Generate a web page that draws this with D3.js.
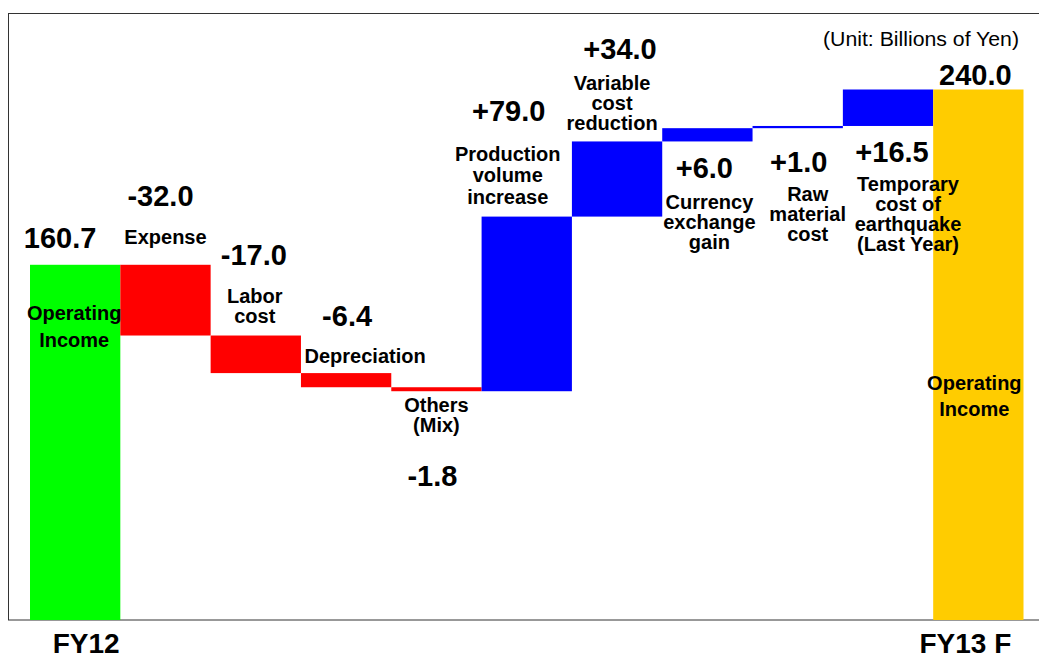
<!DOCTYPE html>
<html>
<head>
<meta charset="utf-8">
<script src="https://cdn.jsdelivr.net/npm/d3@7"></script>
<style>
  body { margin: 0; background: #fff; }
  svg { display: block; font-family: "Liberation Sans", Arial, sans-serif; }
</style>
</head>
<body>
<svg id="chart" width="1039" height="659"></svg>
<script>
// data
const categories = ["FY12", "Expense", "Labor cost", "Depreciation", "Others (Mix)",
  "Production volume increase", "Variable cost reduction", "Currency exchange gain",
  "Raw material cost", "Temporary cost of earthquake (Last Year)", "FY13 F"];
const values = [160.7, -32.0, -17.0, -6.4, -1.8, 79.0, 34.0, 6.0, 1.0, 16.5, 240.0];
const kinds = ["total", "neg", "neg", "neg", "neg", "pos", "pos", "pos", "pos", "pos", "end"];
const valueLabels = ["160.7", "-32.0", "-17.0", "-6.4", "-1.8", "+79.0", "+34.0", "+6.0", "+1.0", "+16.5", "240.0"];
const nameLines = [
  ["Operating", "Income"], ["Expense"], ["Labor", "cost"], ["Depreciation"], ["Others", "(Mix)"],
  ["Production", "volume", "increase"], ["Variable", "cost", "reduction"], ["Currency", "exchange", "gain"],
  ["Raw", "material", "cost"], ["Temporary", "cost of", "earthquake", "(Last Year)"], ["Operating", "Income"]
];
const axisLabels = ["FY12", "", "", "", "", "", "", "", "", "", "FY13 F"];
const unitLabel = "(Unit: Billions of Yen)";

// label layout: dx from band centre, y offset from bar top ("t") or bottom ("b")
const valuePos = [[-15, "t", -17], [-5, "t", -59], [-2, "t", -71], [1, "t", -47], [-4, "b", 95],
  [-18, "t", -96], [3, "t", -82], [-3, "b", 37], [1, "b", 43.5], [4, "b", 36.5], [-3, "t", -5]];
const namePos = [[-1, "t", 55, 27], [0, "t", -21, 20], [-1, "t", -33, 20], [19, "t", -10, 20], [0, "b", 21, 20],
  [-19, "t", -56, 21.5], [-5, "t", -51, 20], [2, "b", 68, 20], [10, "b", 72.5, 20], [20, "b", 65, 20],
  [-4, "t", 300, 26]];
const colors = { total: "#00ff00", neg: "#ff0000", pos: "#0000ff", end: "#ffcc00" };

const svg = d3.select("#chart");
const x = d3.scaleBand().domain(d3.range(categories.length)).range([30, 1023.5]).padding(0);
const y = d3.scaleLinear().domain([0, 240]).range([620, 89.5]);

// build waterfall segments
let run = 0;
const bars = values.map((v, i) => {
  let lo, hi;
  if (kinds[i] === "total" || kinds[i] === "end") { lo = 0; hi = v; run = v; }
  else { const s = run; run = run + v; lo = Math.min(s, run); hi = Math.max(s, run); }
  return { i, lo, hi, kind: kinds[i] };
});

// frame
svg.append("rect")
  .attr("x", 8.5).attr("y", 13.5).attr("width", 1040).attr("height", 606.5)
  .attr("fill", "none").attr("stroke", "#333").attr("stroke-width", 1);

svg.append("g").selectAll("rect").data(bars).join("rect")
  .attr("x", d => x(d.i))
  .attr("width", x.bandwidth())
  .attr("y", d => y(d.hi))
  .attr("height", d => y(d.lo) - y(d.hi))
  .attr("fill", d => colors[d.kind]);

const anchorY = (d, mode) => mode === "t" ? y(d.hi) : y(d.lo);

// value labels
svg.append("g").selectAll("text").data(bars).join("text")
  .attr("x", d => x(d.i) + x.bandwidth() / 2 + valuePos[d.i][0])
  .attr("y", d => anchorY(d, valuePos[d.i][1]) + valuePos[d.i][2])
  .attr("text-anchor", "middle")
  .attr("font-size", 29).attr("font-weight", "bold").attr("fill", "#000")
  .text(d => valueLabels[d.i]);

// category names
const names = svg.append("g").selectAll("text").data(bars).join("text")
  .attr("text-anchor", "middle")
  .attr("font-size", 20).attr("font-weight", "bold").attr("fill", "#000");
names.each(function (d) {
  const p = namePos[d.i];
  const cx = x(d.i) + x.bandwidth() / 2 + p[0];
  const y0 = anchorY(d, p[1]) + p[2];
  d3.select(this).selectAll("tspan").data(nameLines[d.i]).join("tspan")
    .attr("x", cx)
    .attr("y", (t, k) => y0 + k * p[3])
    .text(t => t);
});

// bottom axis labels
const axis = svg.append("g")
  .attr("transform", "translate(0,620)")
  .call(d3.axisBottom(x).tickSize(0).tickFormat(i => axisLabels[i]));
axis.select(".domain").remove();
axis.selectAll("text")
  .attr("font-family", "Liberation Sans, Arial, sans-serif")
  .attr("font-size", 28).attr("font-weight", "bold").attr("fill", "#000")
  .attr("dy", null)
  .attr("y", 33)
  .attr("dx", i => i === 0 ? 11 : -13);

// unit note
svg.append("text")
  .attr("x", 1019).attr("y", 46)
  .attr("text-anchor", "end")
  .attr("font-size", 20).attr("fill", "#000")
  .attr("textLength", 196).attr("lengthAdjust", "spacingAndGlyphs")
  .text(unitLabel);
</script>
</body>
</html>
